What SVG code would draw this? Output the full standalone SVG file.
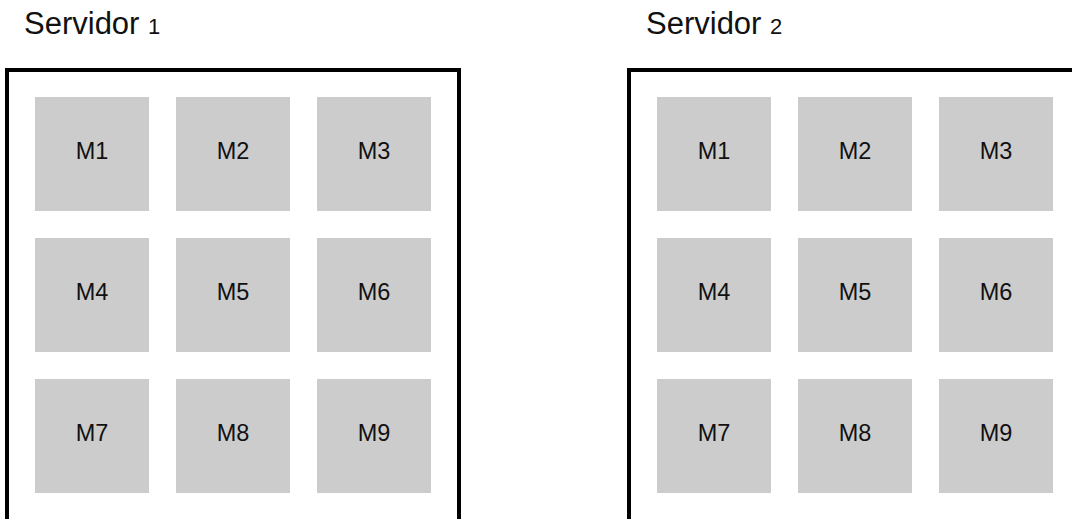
<svg xmlns="http://www.w3.org/2000/svg" width="1072" height="519" viewBox="0 0 1072 519">
  <style>
    .title { font-family: "Liberation Sans", Arial, sans-serif; font-size: 31px; fill: #111; }
    .num { font-family: "Liberation Sans", Arial, sans-serif; font-size: 22px; fill: #111; }
    .server { fill: none; stroke: #000; stroke-width: 4; }
    .vm rect { fill: #cccccc; }
    .vm text { font-family: "Liberation Sans", Arial, sans-serif; font-size: 23.5px; fill: #111; text-anchor: middle; }
  </style>
  <rect width="1072" height="519" fill="#ffffff"/>

  <!-- Server 1 -->
  <g id="servidor1">
    <text x="24" y="34.3"><tspan class="title">Servidor</tspan><tspan class="num" dx="8.6">1</tspan></text>
    <rect class="server" x="7" y="70" width="452" height="480"/>
    <g id="s1-m1" class="vm"><rect x="35" y="97" width="114" height="114"/><text x="92" y="158.5">M1</text></g>
    <g id="s1-m2" class="vm"><rect x="176" y="97" width="114" height="114"/><text x="233" y="158.5">M2</text></g>
    <g id="s1-m3" class="vm"><rect x="317" y="97" width="114" height="114"/><text x="374" y="158.5">M3</text></g>
    <g id="s1-m4" class="vm"><rect x="35" y="238" width="114" height="114"/><text x="92" y="299.5">M4</text></g>
    <g id="s1-m5" class="vm"><rect x="176" y="238" width="114" height="114"/><text x="233" y="299.5">M5</text></g>
    <g id="s1-m6" class="vm"><rect x="317" y="238" width="114" height="114"/><text x="374" y="299.5">M6</text></g>
    <g id="s1-m7" class="vm"><rect x="35" y="379" width="114" height="114"/><text x="92" y="440.5">M7</text></g>
    <g id="s1-m8" class="vm"><rect x="176" y="379" width="114" height="114"/><text x="233" y="440.5">M8</text></g>
    <g id="s1-m9" class="vm"><rect x="317" y="379" width="114" height="114"/><text x="374" y="440.5">M9</text></g>
  </g>

  <!-- Server 2 -->
  <g id="servidor2">
    <text x="646" y="34.3"><tspan class="title">Servidor</tspan><tspan class="num" dx="8.6">2</tspan></text>
    <rect class="server" x="629" y="70" width="480" height="480"/>
    <g id="s2-m1" class="vm"><rect x="657" y="97" width="114" height="114"/><text x="714" y="158.5">M1</text></g>
    <g id="s2-m2" class="vm"><rect x="798" y="97" width="114" height="114"/><text x="855" y="158.5">M2</text></g>
    <g id="s2-m3" class="vm"><rect x="939" y="97" width="114" height="114"/><text x="996" y="158.5">M3</text></g>
    <g id="s2-m4" class="vm"><rect x="657" y="238" width="114" height="114"/><text x="714" y="299.5">M4</text></g>
    <g id="s2-m5" class="vm"><rect x="798" y="238" width="114" height="114"/><text x="855" y="299.5">M5</text></g>
    <g id="s2-m6" class="vm"><rect x="939" y="238" width="114" height="114"/><text x="996" y="299.5">M6</text></g>
    <g id="s2-m7" class="vm"><rect x="657" y="379" width="114" height="114"/><text x="714" y="440.5">M7</text></g>
    <g id="s2-m8" class="vm"><rect x="798" y="379" width="114" height="114"/><text x="855" y="440.5">M8</text></g>
    <g id="s2-m9" class="vm"><rect x="939" y="379" width="114" height="114"/><text x="996" y="440.5">M9</text></g>
  </g>

  <!-- no connectors in this layout -->
  <g id="connectors"/>
</svg>
